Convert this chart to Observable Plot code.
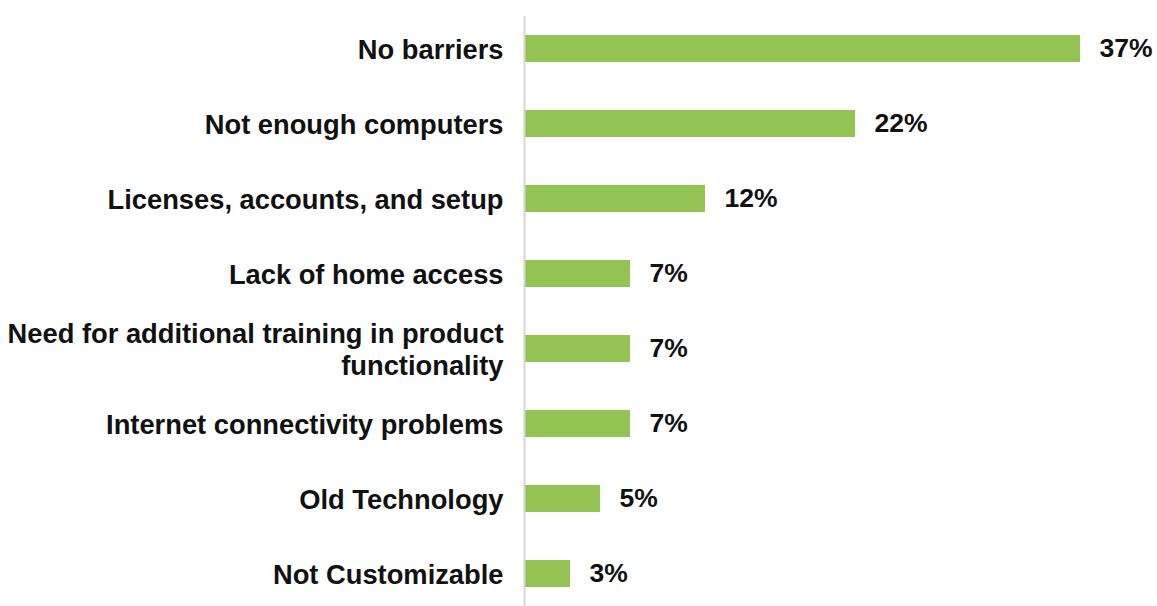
<!DOCTYPE html>
<html>
<head>
<meta charset="utf-8">
<script src="https://cdn.jsdelivr.net/npm/d3@7"></script>
<script src="https://cdn.jsdelivr.net/npm/@observablehq/plot@0.6"></script>
<style>
  html, body { margin: 0; padding: 0; background: #fff; }
  #chart svg { display: block; }
</style>
</head>
<body>
<div id="chart"></div>
<script>
const categories = [
  "No barriers",
  "Not enough computers",
  "Licenses, accounts, and setup",
  "Lack of home access",
  "Need for additional training in product\nfunctionality",
  "Internet connectivity problems",
  "Old Technology",
  "Not Customizable"
];
const values = [37, 22, 12, 7, 7, 7, 5, 3];

const data = categories.map((c, i) => ({category: c, value: values[i]}));

const fontFamily = "'Liberation Sans', Arial, Helvetica, sans-serif";

const chart = Plot.plot({
  width: 1157,
  height: 606,
  marginLeft: 525,
  marginRight: 77,
  marginTop: 16,
  marginBottom: 0,
  style: {fontFamily, background: "#fff"},
  x: {domain: [0, 37], axis: null},
  y: {domain: categories, axis: null, paddingInner: 0.64, paddingOuter: 0.25},
  marks: [
    Plot.barX(data, {x: "value", y: "category", fill: "#92c353"}),
    Plot.ruleX([0], {stroke: "#d6d6d6", strokeWidth: 2, dx: -1}),
    Plot.text(data, {
      x: 0, y: "category", text: "category",
      textAnchor: "end", dx: -22,
      fontSize: 27.3, fontWeight: "bold", fill: "#111",
      lineHeight: 1.15
    }),
    Plot.text(data, {
      x: "value", y: "category", text: d => d.value + "%",
      textAnchor: "start", dx: 19,
      fontSize: 26.5, fontWeight: "bold", fill: "#111"
    })
  ]
});
document.getElementById("chart").appendChild(chart);
</script>
</body>
</html>
